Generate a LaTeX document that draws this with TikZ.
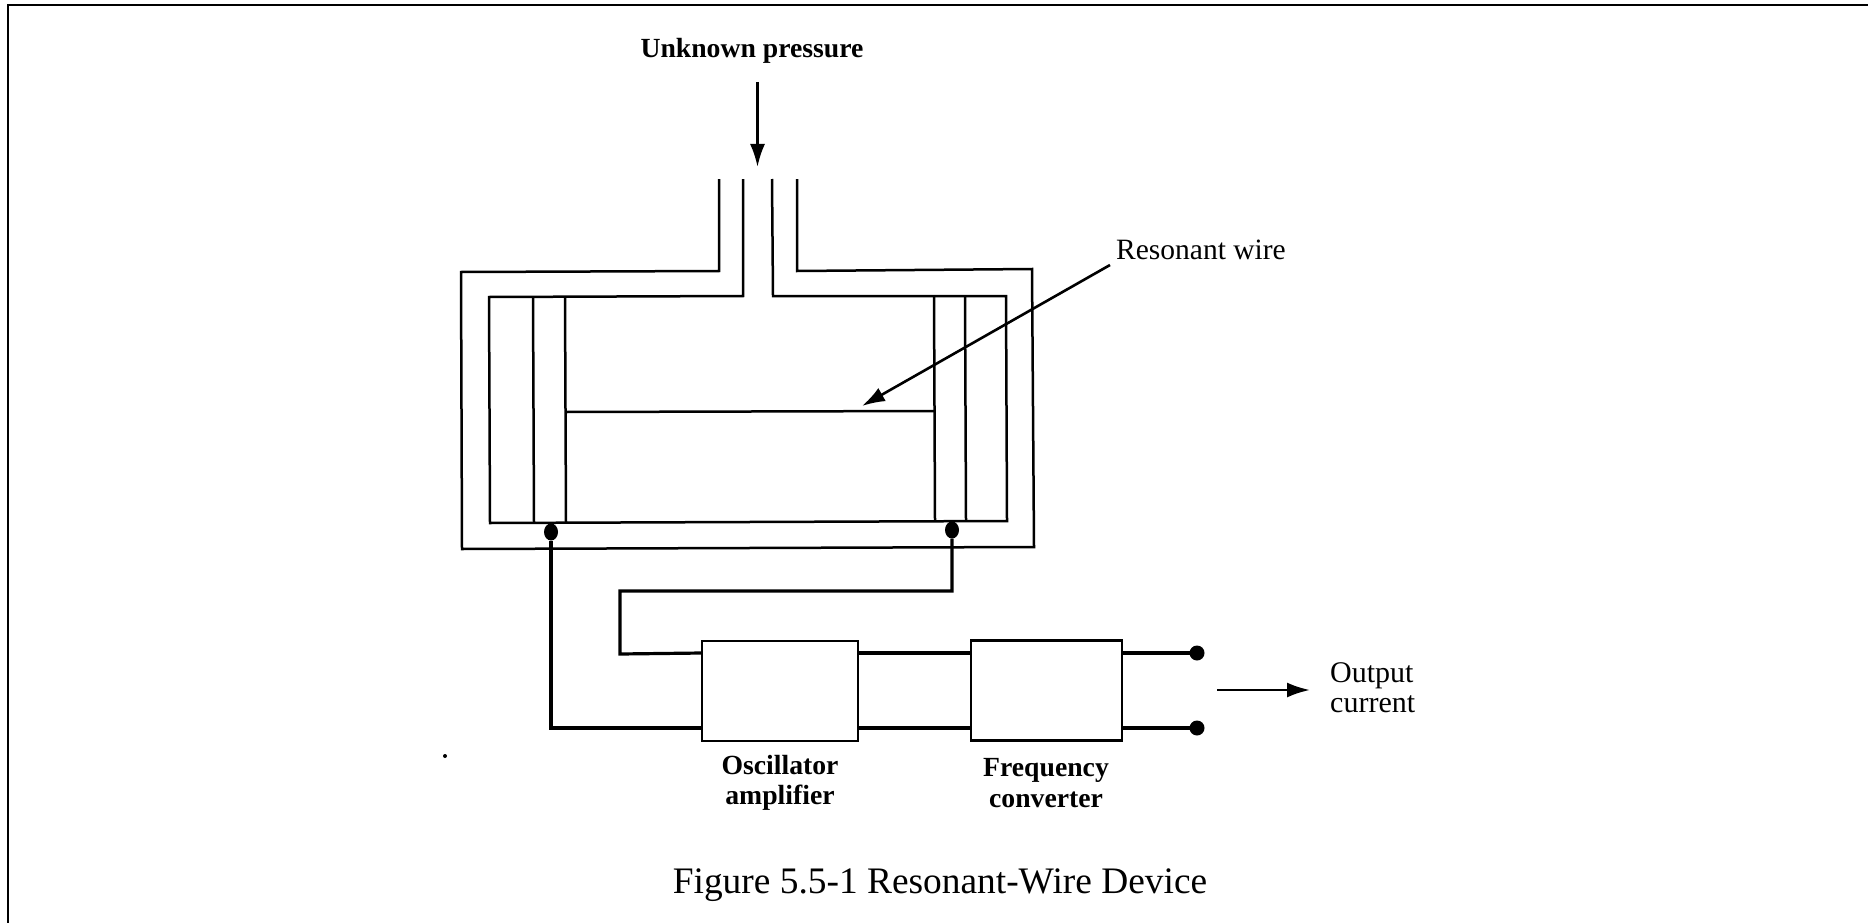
\documentclass[tikz,border=0pt]{standalone}
\usepackage{fontspec}
\setmainfont{Liberation Serif}
\usetikzlibrary{arrows.meta,shapes.geometric}
\tikzset{
  x=1pt,y=-1pt,
  wall/.style={draw=black,line width=2.5pt,line cap=butt,line join=miter},
  wirel/.style={draw=black,line width=3.2pt,line join=miter},
  blk/.style={draw=black,line width=2.8pt,fill=white,minimum width=#1,minimum height=100pt,inner sep=0pt,outer sep=0pt},
  termdot/.style={circle,fill=black,minimum size=15pt,inner sep=0pt,outer sep=0pt},
  pindot/.style={ellipse,fill=black,minimum width=14pt,minimum height=17pt,inner sep=0pt,outer sep=0pt},
  arr/.style={draw=black,line width=2.6pt,-{Latex[length=23pt,width=15pt]}},
  lab/.style={font=\fontsize{29.5}{29.5}\selectfont,inner sep=0pt,align=left},
  blab/.style={font=\fontsize{27.7}{30.5}\selectfont\bfseries,inner sep=0pt,align=center},
  captxt/.style={font=\fontsize{37.4}{37.4}\selectfont,inner sep=0pt},
}
\begin{document}
\begin{tikzpicture}
\useasboundingbox (0,0) rectangle (1868,923);
% frame
\draw[line width=2.4pt] (8,923) -- (8,5) -- (1868,5);
% housing
\draw[wall] (719,179) -- (719,271) -- (461,272) -- (462,549) -- (1034,547) -- (1032,269) -- (797,271) -- (797,179);
\draw[wall] (743,179) -- (743,296) -- (489,297) -- (490,523) -- (1007,521) -- (1006,296) -- (773,296) -- (772,179);
% posts
\draw[wall] (533,297) -- (534,523);
\draw[wall] (565,297) -- (566,523);
\draw[wall] (934,296) -- (935,521);
\draw[wall] (965,296) -- (966,521);
\draw[wall] (566,412) -- (934,411);
% nodes
\node[pindot] (pa) at (551,532) {};
\node[pindot] (pb) at (952,530) {};
\node[blk=156pt] (osc) at (780,691) {};
\node[blk=151pt] (frq) at (1046.5,690.5) {};
\node[termdot] (t1) at (1197,653) {};
\node[termdot] (t2) at (1197,728) {};
\coordinate (pressA) at (757.5,82);
\coordinate (pressB) at (757.5,167);
\coordinate (wireA) at (1110,265);
\coordinate (wireB) at (862,406);
\coordinate (outA) at (1217,690);
\coordinate (outB) at (1310,690);
\node[lab,anchor=base west] (lwire) at (1116,259) {Resonant wire};
\node[blab,anchor=base] (lpress) at (752,58) {Unknown pressure};
\node[blab] (losc) at (780,783) {Oscillator\\amplifier};
\node[blab] (lfrq) at (1046,783) {Frequency\\converter};
\node[lab,anchor=west,font=\fontsize{30}{30}\selectfont] (lout) at (1330,688) {Output\\current};
\node[captxt] (lcap) at (940,885) {Figure 5.5-1 Resonant-Wire Device};
% connectors
\draw[arr] (pressA) -- (pressB);
\draw[arr] (wireA) -- (wireB);
\draw[arr] (outA) -- (outB);
\draw[wirel] (pa.south) |- (osc.west |- t2);
\draw[wirel] (pb.south) -- (952,591) -- (620,591) -- (620,654) -- (osc.west |- t1);
\draw[wirel,line width=3.6pt] (osc.east |- t1) -- (frq.west |- t1);
\draw[wirel,line width=3.6pt] (osc.east |- t2) -- (frq.west |- t2);
\draw[wirel,line width=3.6pt] (frq.east |- t1) -- (t1);
\draw[wirel,line width=3.6pt] (frq.east |- t2) -- (t2);
\fill (445,756) circle (2pt);
\end{tikzpicture}
\end{document}
